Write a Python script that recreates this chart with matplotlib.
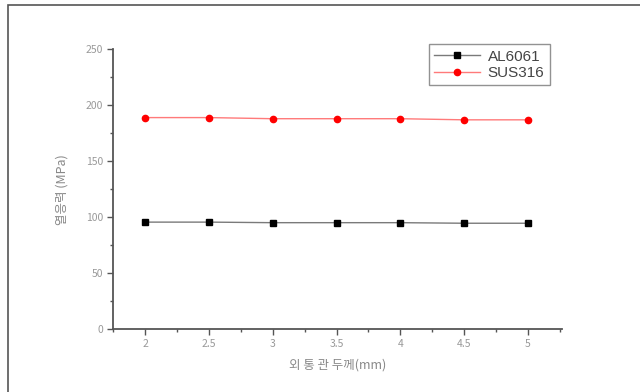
import matplotlib
matplotlib.use("Agg")
import matplotlib.pyplot as plt
from matplotlib.patches import Rectangle
from matplotlib.ticker import MultipleLocator

plt.rcParams['font.family'] = ['Noto Sans CJK KR', 'DejaVu Sans']

thickness = [2, 2.5, 3, 3.5, 4, 4.5, 5]
al6061 = [95.5, 95.5, 95, 95, 95, 94.5, 94.5]
sus316 = [189, 189, 188, 188, 188, 187, 187]

fig = plt.figure(figsize=(6.4, 3.92), dpi=100)
ax = fig.add_axes([0.176, 0.161, 0.702, 0.713])

# outer frame (only top and left edges fall inside the picture)
fig.patches.append(Rectangle((0.013, -0.05), 1.1, 1.038, transform=fig.transFigure,
                             fill=False, edgecolor='#555555', linewidth=1.2))

ax.plot(thickness, al6061, color='#7a7a7a', linewidth=1.0, marker='s', ms=4.5,
        mfc='black', mec='black', label='AL6061')
ax.plot(thickness, sus316, color='#ff7a7a', linewidth=1.0, marker='o', ms=4.5,
        mfc='red', mec='red', label='SUS316')

ax.set_xlim(1.746, 5.266)
ax.set_ylim(0, 250)
ax.set_xticks(thickness)
ax.set_xticklabels(['2', '2.5', '3', '3.5', '4', '4.5', '5'])
ax.xaxis.set_minor_locator(MultipleLocator(0.25))
ax.yaxis.set_major_locator(MultipleLocator(50))
ax.yaxis.set_minor_locator(MultipleLocator(25))

for s in ['top', 'right']:
    ax.spines[s].set_visible(False)
for s in ['left', 'bottom']:
    ax.spines[s].set_color('#555555')
    ax.spines[s].set_linewidth(1.3)

ax.tick_params(which='major', direction='out', length=4, width=1, color='#555555',
               labelsize=7.5, labelcolor='#999999', pad=3)
ax.tick_params(which='minor', direction='out', length=2.5, width=1, color='#555555')

ax.set_xlabel('외 통 관 두께(mm)', fontsize=9, color='#888888', labelpad=7)
ax.set_ylabel('열응력 (MPa)', fontsize=9, color='#888888', labelpad=12)

leg = ax.legend(loc='upper right', bbox_to_anchor=(0.99, 1.045),
                prop={'family': ['Liberation Sans'], 'size': 11},
                frameon=True, fancybox=False, edgecolor='#777777',
                handlelength=3.0, handletextpad=0.5, borderpad=0.35, labelspacing=0.15)
leg.get_frame().set_linewidth(1.0)
for t in leg.get_texts():
    t.set_color('#444444')

fig.savefig('out.png', dpi=100)
